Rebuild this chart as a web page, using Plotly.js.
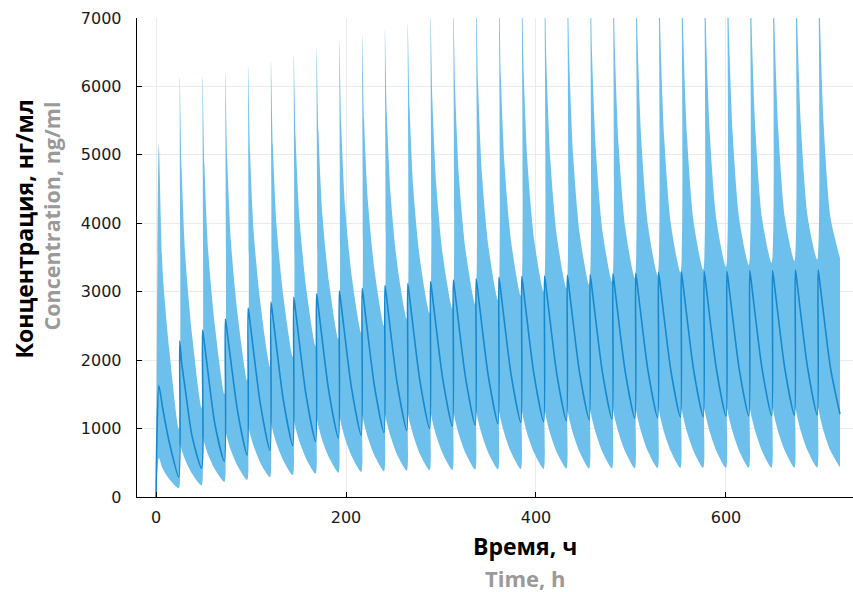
<!DOCTYPE html>
<html>
<head>
<meta charset="utf-8">
<script src="https://cdn.plot.ly/plotly-3.0.1.min.js"></script>
<style>html,body{margin:0;padding:0;background:#fff;}#chart{width:853px;height:592px;}</style>
</head>
<body>
<div id="chart"></div>
<script>
// Dosing schedule (h) and sampling offsets within each dosing interval (h)
const doseTimes = [0,24,48,72,96,120,144,168,192,216,240,264,288,312,336,360,384,408,432,456,480,504,528,552,576,600,624,648,672,696];
const sampleOffsets = [0,1,3,7,14];
const endTime = 720;

// Mean concentration, ng/ml (5 values per dosing interval, then value at end)
const meanConc = [
0,900,1630,1300,800,
290,2280,1960,1555,885,
420,2440,2240,1790,1065,
520,2600,2400,1965,1245,
610,2760,2550,2095,1345,
680,2850,2640,2180,1420,
750,2920,2710,2245,1485,
810,2970,2760,2295,1535,
860,3010,2800,2335,1575,
900,3050,2840,2375,1615,
940,3090,2880,2410,1650,
970,3120,2910,2440,1680,
1000,3150,2940,2470,1710,
1030,3170,2960,2490,1730,
1050,3190,2980,2510,1750,
1070,3210,3000,2530,1770,
1090,3220,3010,2540,1780,
1100,3230,3020,2555,1790,
1115,3240,3030,2565,1805,
1130,3250,3040,2575,1815,
1140,3260,3050,2585,1825,
1150,3270,3060,2595,1835,
1160,3280,3070,2605,1845,
1170,3290,3080,2615,1850,
1175,3300,3090,2620,1860,
1180,3300,3090,2625,1860,
1185,3310,3100,2630,1870,
1190,3310,3100,2635,1870,
1195,3320,3110,2640,1880,
1200,3320,3110,2645,1885,
1210];

// Lower bound of the band
const lowerConc = [
0,250,570,415,260,
130,780,690,535,340,
170,880,780,615,405,
220,960,855,675,450,
250,1030,920,735,495,
290,1080,965,775,535,
320,1120,1005,810,560,
340,1150,1030,830,580,
355,1180,1060,855,595,
365,1200,1075,870,605,
375,1210,1085,880,615,
385,1220,1095,890,620,
390,1230,1105,895,630,
395,1240,1115,905,635,
400,1245,1120,910,640,
405,1250,1125,915,645,
408,1255,1130,915,645,
411,1260,1135,920,650,
414,1265,1140,925,655,
416,1270,1140,930,655,
418,1275,1145,935,660,
420,1280,1150,935,660,
422,1285,1155,940,665,
424,1290,1160,945,665,
425,1290,1160,945,670,
426,1295,1165,950,670,
427,1295,1165,950,670,
428,1300,1170,950,675,
429,1300,1170,950,675,
430,1300,1170,950,675,
430];

// Upper bound of the band
const upperConc = [
0,2500,5150,3300,2150,
1000,6140,4785,3480,2365,
1300,6150,4845,3580,2505,
1500,6200,4930,3705,2660,
1700,6280,5040,3840,2815,
1900,6370,5145,3950,2940,
2050,6470,5250,4070,3065,
2200,6570,5345,4155,3145,
2300,6660,5435,4240,3230,
2400,6750,5520,4330,3315,
2500,6830,5605,4410,3395,
2600,6920,5685,4480,3460,
2680,7050,5795,4565,3525,
2750,7200,5915,4660,3595,
2820,7350,6035,4745,3655,
2880,7500,6155,4830,3715,
2940,7600,6240,4900,3765,
3000,7700,6320,4955,3805,
3050,7800,6400,5015,3845,
3100,7900,6480,5075,3885,
3150,8000,6560,5130,3930,
3200,8100,6635,5185,3960,
3240,8200,6715,5235,3990,
3280,8250,6755,5265,4015,
3320,8300,6800,5300,4040,
3360,8350,6835,5325,4055,
3390,8400,6875,5350,4065,
3420,8450,6915,5375,4080,
3450,8500,6950,5395,4090,
3470,8500,6950,5395,4085,
3490];

const yTicks = [0,1000,2000,3000,4000,5000,6000,7000];
const xTicks = [0,200,400,600];
const yTitleRu = "Концентрация, нг/мл";
const yTitleEn = "Concentration, ng/ml";
const xTitleRu = "Время, ч";
const xTitleEn = "Time, h";

const time = [];
doseTimes.forEach(d => sampleOffsets.forEach(o => time.push(d + o)));
time.push(endTime);

const bandColor = "rgb(110,192,236)";
const lineColor = "rgb(22,136,206)";
const smooth = 0.7;

const traces = [
  {x: time, y: lowerConc, type: "scatter", mode: "lines", line: {width: 0, color: bandColor, shape: "spline", smoothing: smooth}, hoverinfo: "skip", showlegend: false},
  {x: time, y: upperConc, type: "scatter", mode: "lines", line: {width: 0, color: bandColor, shape: "spline", smoothing: smooth}, fill: "tonexty", fillcolor: bandColor, hoverinfo: "skip", showlegend: false},
  {x: time, y: meanConc, type: "scatter", mode: "lines", line: {width: 1.6, color: lineColor, shape: "spline", smoothing: smooth}, showlegend: false}
];

const L = 137, R = 853, T = 18, B = 497;
const px = v => (v - L) / (R - L);
const py = v => (B - v) / (B - T);

const titleFont = {family: "Open Sans, sans-serif", size: 23, color: "#000", weight: 700};
const greyYFont = {family: "Open Sans, sans-serif", size: 21.5, color: "#9a9a9a", weight: 700};
const greyXFont = {family: "Open Sans, sans-serif", size: 22, color: "#9a9a9a", weight: 700};
const tickFont = {family: "DejaVu Sans, sans-serif", size: 16, color: "#1a1a1a"};

const layout = {
  width: 853, height: 592,
  margin: {l: L, r: 853 - R, t: T, b: 592 - B, pad: 0},
  paper_bgcolor: "#fff", plot_bgcolor: "#fff",
  showlegend: false,
  xaxis: {
    range: [-20, 733.7], tickvals: xTicks, ticktext: xTicks.map(String),
    ticks: "inside", ticklen: 5, tickwidth: 1, tickcolor: "#000",
    showline: true, linecolor: "#000", linewidth: 1.3, mirror: false,
    showgrid: true, gridcolor: "#ebebeb", gridwidth: 1, zeroline: false,
    tickfont: tickFont, ticklabelstandoff: 5
  },
  yaxis: {
    range: [0, 7000], tickvals: yTicks, ticktext: yTicks.map(String),
    ticks: "inside", ticklen: 5, tickwidth: 1, tickcolor: "#000",
    showline: true, linecolor: "#000", linewidth: 1.3, mirror: false,
    showgrid: true, gridcolor: "#ebebeb", gridwidth: 1, zeroline: false,
    tickfont: tickFont, ticklabelstandoff: 11
  },
  annotations: [
    {text: yTitleRu, xref: "paper", yref: "paper", x: px(23), y: py(98), xanchor: "center", yanchor: "top", textangle: -90, showarrow: false, font: titleFont},
    {text: yTitleEn, xref: "paper", yref: "paper", x: px(51), y: py(100), xanchor: "center", yanchor: "top", textangle: -90, showarrow: false, font: greyYFont},
    {text: xTitleRu, xref: "paper", yref: "paper", x: px(525), y: py(546), xanchor: "center", yanchor: "middle", showarrow: false, font: titleFont},
    {text: xTitleEn, xref: "paper", yref: "paper", x: px(525), y: py(578), xanchor: "center", yanchor: "middle", showarrow: false, font: greyXFont}
  ]
};

Plotly.newPlot("chart", traces, layout, {displayModeBar: false, staticPlot: true});
</script>
</body>
</html>
